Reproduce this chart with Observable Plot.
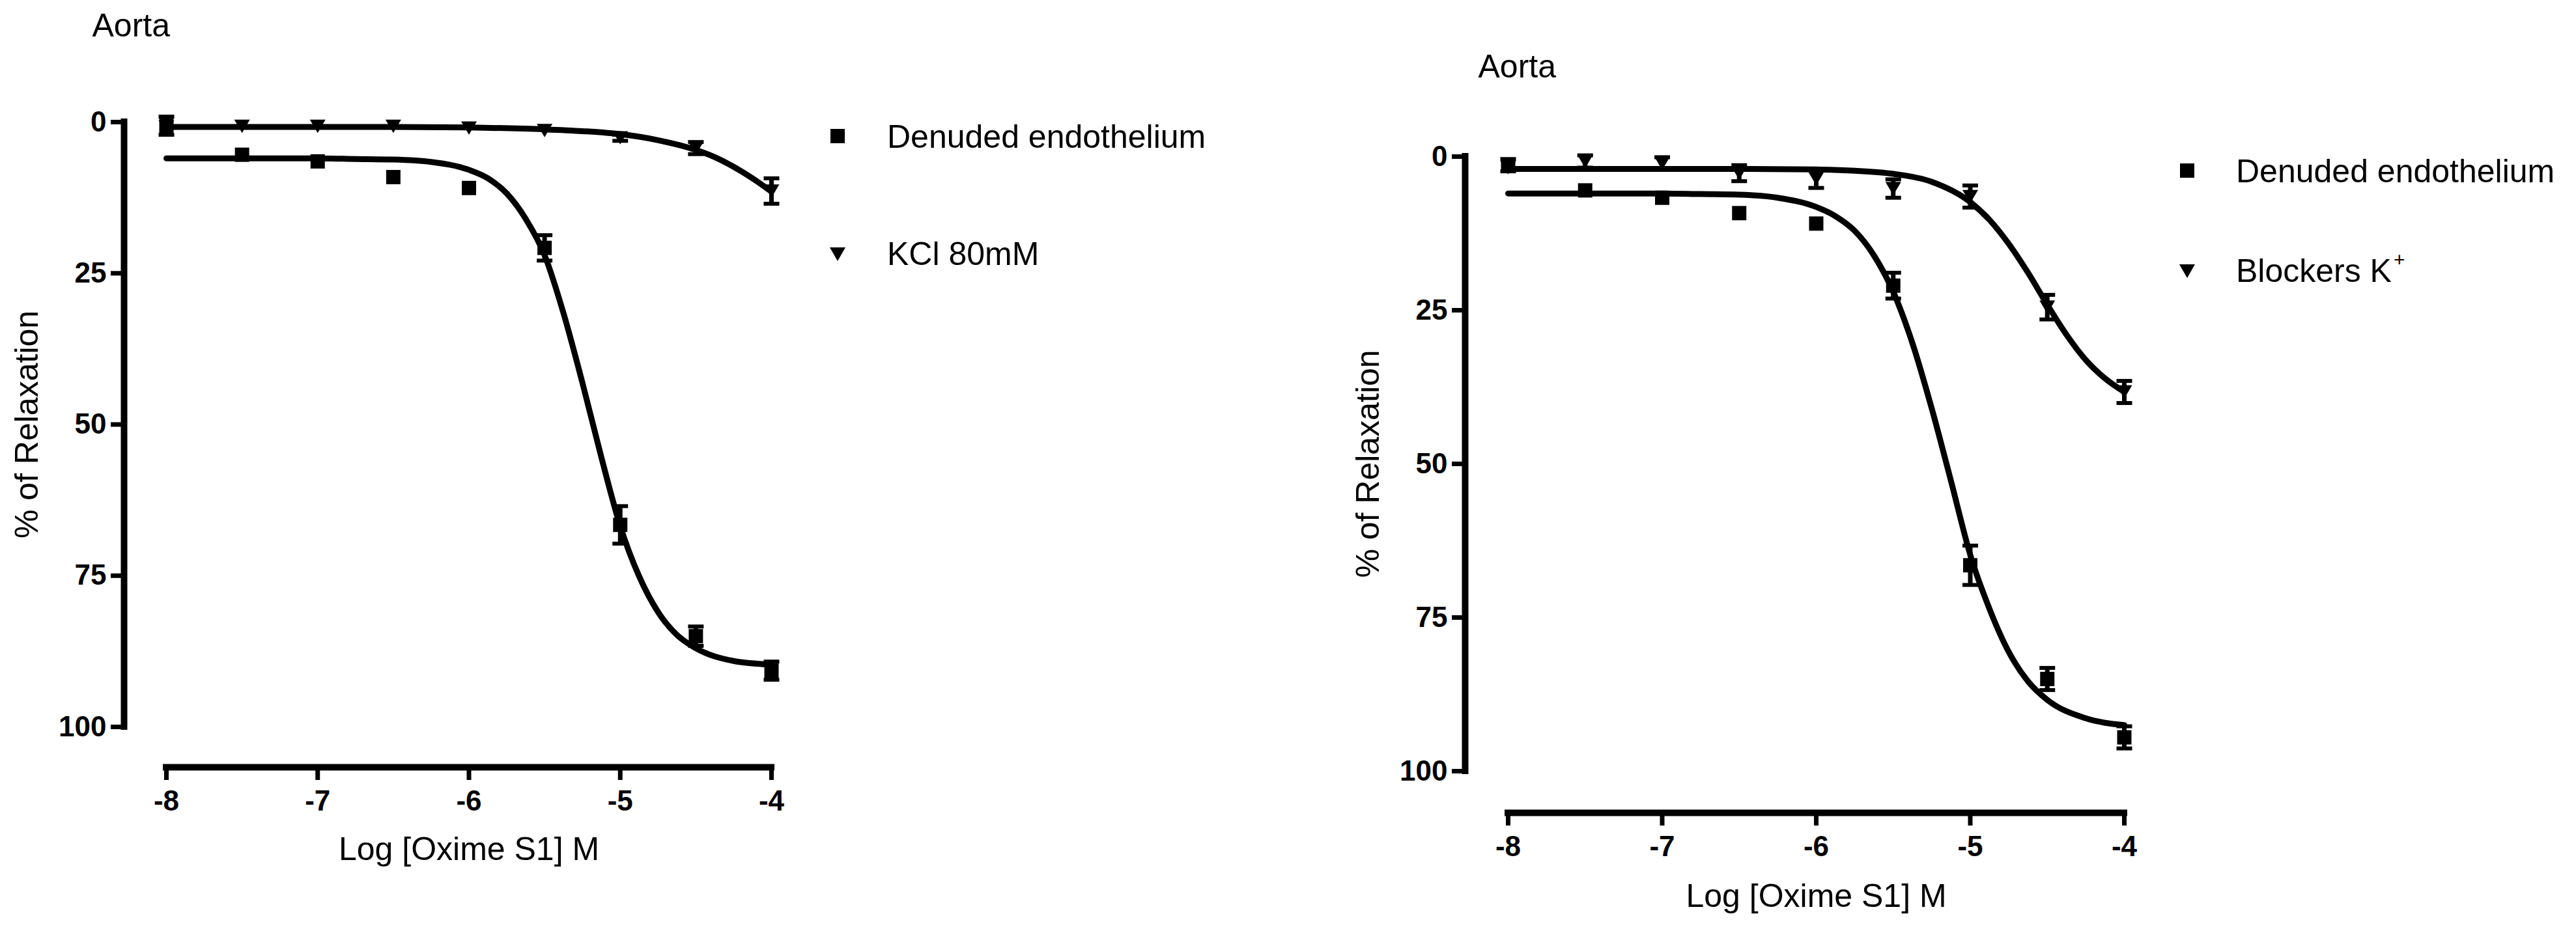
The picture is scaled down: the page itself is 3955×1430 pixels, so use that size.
<!DOCTYPE html>
<html><head><meta charset="utf-8">
<script src="https://cdn.jsdelivr.net/npm/d3@7"></script>
<script src="https://cdn.jsdelivr.net/npm/@observablehq/plot@0.6"></script>
<style>
html,body{margin:0;padding:0;background:#fff;}
#page{position:relative;width:3955px;height:1430px;overflow:hidden;background:#fff;font-family:'Liberation Sans',Arial,sans-serif;color:#000;}
.panel{position:absolute;top:0;}
.leg-text{position:absolute;font-size:50px;line-height:50px;white-space:nowrap;}
.leg-sq{position:absolute;width:22px;height:22px;background:#000;}
.leg-tri{position:absolute;width:0;height:0;border-left:12px solid transparent;border-right:12px solid transparent;border-top:21px solid #000;}
.sup{font-size:30px;position:relative;top:-24px;margin-left:3px;}
</style></head><body><div id="page"></div>
<script>
// ---- shared axes / labels ----
const logConc = [-8, -7.5, -7, -6.5, -6, -5.5, -5, -4.5, -4];
const xTicks = [-8, -7, -6, -5, -4];
const yTicks = [0, 25, 50, 75, 100];
const panelTitle = "Aorta";
const xTitle = "Log [Oxime S1] M";
const yTitle = "% of Relaxation";

// ---- left panel: Denuded endothelium vs KCl 80mM ----
const legendA = ["Denuded endothelium", "KCl 80mM"];
const denudedA    = [0.6, 5.4, 6.5, 9.1, 10.9, 20.8, 66.6, 85.0, 90.7];
const denudedAErr = [1.5, 0, 0, 0, 0, 2.1, 3.1, 1.6, 1.5];
const kclA        = [0.8, 0.7, 0.7, 0.7, 1.0, 1.4, 2.6, 4.3, 11.4];
const kclAErr     = [0, 0, 0, 0, 0, 0, 0.5, 1.0, 2.1];
const fitXDenuded = [-8, -7.5, -7, -6.75, -6.5, -6.25, -6, -5.875, -5.75, -5.625, -5.5, -5.375, -5.25, -5.125, -5, -4.875, -4.75, -4.625, -4.5, -4.25, -4];
const fitDenudedA = [6.0, 6.0, 6.0, 6.1, 6.2, 6.6, 7.9, 9.3, 11.8, 16.0, 22.0, 31.6, 43.1, 55.4, 66.8, 75.1, 81.0, 84.8, 87.0, 89.1, 89.7];
const fitXKcl     = [-8, -7, -6.5, -6, -5.5, -5.25, -5, -4.75, -4.5, -4.375, -4.25, -4.125, -4];
const fitKclA     = [0.8, 0.8, 0.8, 0.9, 1.2, 1.5, 2.0, 3.0, 4.6, 5.8, 7.4, 9.3, 11.5];

// ---- right panel: Denuded endothelium vs Blockers K+ ----
const legendB = ["Denuded endothelium", "Blockers K"];
const denudedB    = [1.4, 5.5, 6.7, 9.2, 10.9, 21.0, 66.5, 85.0, 94.5];
const denudedBErr = [1.0, 0, 0, 0, 0, 2.1, 3.2, 1.8, 1.8];
const blockersB    = [1.8, 0.8, 1.1, 2.7, 3.6, 5.2, 6.5, 24.5, 38.3];
const blockersBErr = [0, 1.0, 1.0, 1.3, 1.5, 1.5, 1.8, 2.0, 1.8];
const fitDenudedB  = [6.0, 6.0, 6.0, 6.1, 6.2, 6.7, 8.2, 9.7, 12.1, 16.1, 22.0, 30.4, 41.0, 52.8, 64.8, 73.6, 80.6, 85.4, 88.4, 91.4, 92.5];
const fitXBlockers = [-8, -7, -6.5, -6, -5.75, -5.5, -5.25, -5, -4.875, -4.75, -4.625, -4.5, -4.375, -4.25, -4.125, -4];
const fitBlockersB = [2.0, 2.0, 2.0, 2.1, 2.3, 2.8, 4.1, 7.4, 10.3, 14.2, 18.9, 24.1, 29.0, 33.1, 36.1, 38.3];

// ---- symbols ----
const invTriangle = {draw(ctx, size){const r=Math.sqrt(size/Math.PI); ctx.moveTo(-r,-0.85*r); ctx.lineTo(r,-0.85*r); ctx.lineTo(0,0.85*r); ctx.closePath();}};
const capSymbol = {draw(ctx, size){const r=Math.sqrt(size/Math.PI); ctx.moveTo(-r,0); ctx.lineTo(r,0);}};

function rows(xs, ys, errs){ return xs.map((x,i)=>({x, y: ys[i], e: errs ? errs[i] : 0})); }

function makePanel(cfg){
  const pts1 = rows(logConc, cfg.s1, cfg.s1e);
  const pts2 = rows(logConc, cfg.s2, cfg.s2e);
  const fit1 = rows(cfg.f1x, cfg.f1);
  const fit2 = rows(cfg.f2x, cfg.f2);
  const errs = [...pts1, ...pts2].filter(d=>d.e>0);
  const caps = errs.flatMap(d=>[{x:d.x,y:d.y-d.e},{x:d.x,y:d.y+d.e}]);
  const x0 = xTicks[0], x1 = xTicks[xTicks.length-1], y0 = yTicks[0], y1 = yTicks[yTicks.length-1];
  const svg = Plot.plot({
    width: cfg.width, height: 1430,
    marginLeft: cfg.ml, marginRight: cfg.mr, marginTop: cfg.mt, marginBottom: cfg.mb,
    x: {type:"linear", domain:[x0,x1], insetLeft: cfg.il},
    y: {type:"linear", domain:[y0,y1], reverse:true, insetBottom: cfg.ib},
    style: {fontFamily:"'Liberation Sans', Arial, sans-serif", background:"white", color:"black", overflow:"visible"},
    marks: [
      Plot.axisY({ticks: yTicks, anchor:"left", tickSize:20, tickPadding:7, tickFormat: d=>String(d), fontSize:44, fontWeight:"bold", strokeWidth:7, label:null}),
      Plot.axisX({ticks: xTicks, anchor:"bottom", tickSize:20, tickPadding:15, tickFormat: d=>String(d), fontSize:44, fontWeight:"bold", strokeWidth:7, label:null}),
      Plot.ruleX([x0], {y1:y0, y2:y1, dx:-cfg.il, strokeWidth:10, strokeLinecap:"square"}),
      Plot.ruleY([y1], {x1:x0, x2:x1, dy:cfg.ib, strokeWidth:10, strokeLinecap:"square"}),
      Plot.line(fit1, {x:"x", y:"y", curve:"monotone-x", strokeWidth:9, stroke:"black"}),
      Plot.line(fit2, {x:"x", y:"y", curve:"monotone-x", strokeWidth:9, stroke:"black"}),
      Plot.ruleX(errs, {x:"x", y1:d=>d.y-d.e, y2:d=>d.y+d.e, strokeWidth:7, stroke:"black"}),
      Plot.dot(caps, {x:"x", y:"y", symbol:capSymbol, r:12, stroke:"black", strokeWidth:6, fill:"none"}),
      Plot.dot(pts1, {x:"x", y:"y", symbol:"square", r:12.4, fill:"black", stroke:"none"}),
      Plot.dot(pts2, {x:"x", y:"y", symbol:invTriangle, r:12, fill:"black", stroke:"none"}),
      Plot.text([panelTitle], {x:x0, y:y0, dx:cfg.tdx, dy:cfg.tdy, textAnchor:"start", lineAnchor:"bottom", fontSize:50}),
      Plot.text([xTitle], {x:(x0+x1)/2, y:y1, dy:cfg.xtdy, lineAnchor:"bottom", fontSize:50}),
      Plot.text([yTitle], {x:x0, y:(y0+y1)/2, dx:cfg.ytdx, rotate:-90, lineAnchor:"middle", fontSize:50})
    ]
  });
  svg.classList.add("panel");
  svg.style.left = cfg.left + "px";
  return svg;
}

const page = document.getElementById("page");
page.appendChild(makePanel({left:0, width:1300, ml:190, mr:116, mt:187, mb:252, il:65, ib:62,
  tdx:-114, tdy:-132, xtdy:204, ytdx:-214,
  s1:denudedA, s1e:denudedAErr, s2:kclA, s2e:kclAErr,
  f1x:fitXDenuded, f1:fitDenudedA, f2x:fitXKcl, f2:fitKclA}));
page.appendChild(makePanel({left:1975, width:1400, ml:274, mr:114, mt:240, mb:182, il:66, ib:64,
  tdx:-46, tdy:-122, xtdy:208, ytdx:-215,
  s1:denudedB, s1e:denudedBErr, s2:blockersB, s2e:blockersBErr,
  f1x:fitXDenuded, f1:fitDenudedB, f2x:fitXBlockers, f2:fitBlockersB}));

// ---- legends (HTML) ----
function addLegend(labels, symX, textX, rowsY, supLast){
  labels.forEach((lab, i) => {
    const base = rowsY[i];
    const sym = document.createElement("div");
    if (i === 0) { sym.className = "leg-sq"; sym.style.left = (symX - 11) + "px"; sym.style.top = (base - 18 - 11) + "px"; }
    else { sym.className = "leg-tri"; sym.style.left = (symX - 12) + "px"; sym.style.top = (base - 17 - 10) + "px"; }
    page.appendChild(sym);
    const t = document.createElement("div");
    t.className = "leg-text";
    t.style.left = textX + "px";
    t.style.top = (base - 42) + "px";
    t.textContent = lab;
    if (supLast && i === labels.length - 1) {
      const s = document.createElement("span"); s.className = "sup"; s.textContent = "+"; t.appendChild(s);
    }
    page.appendChild(t);
  });
}
addLegend(legendA, 1286, 1362, [227, 407], false);
addLegend(legendB, 3358, 3433, [280, 433], true);
</script></body></html>
